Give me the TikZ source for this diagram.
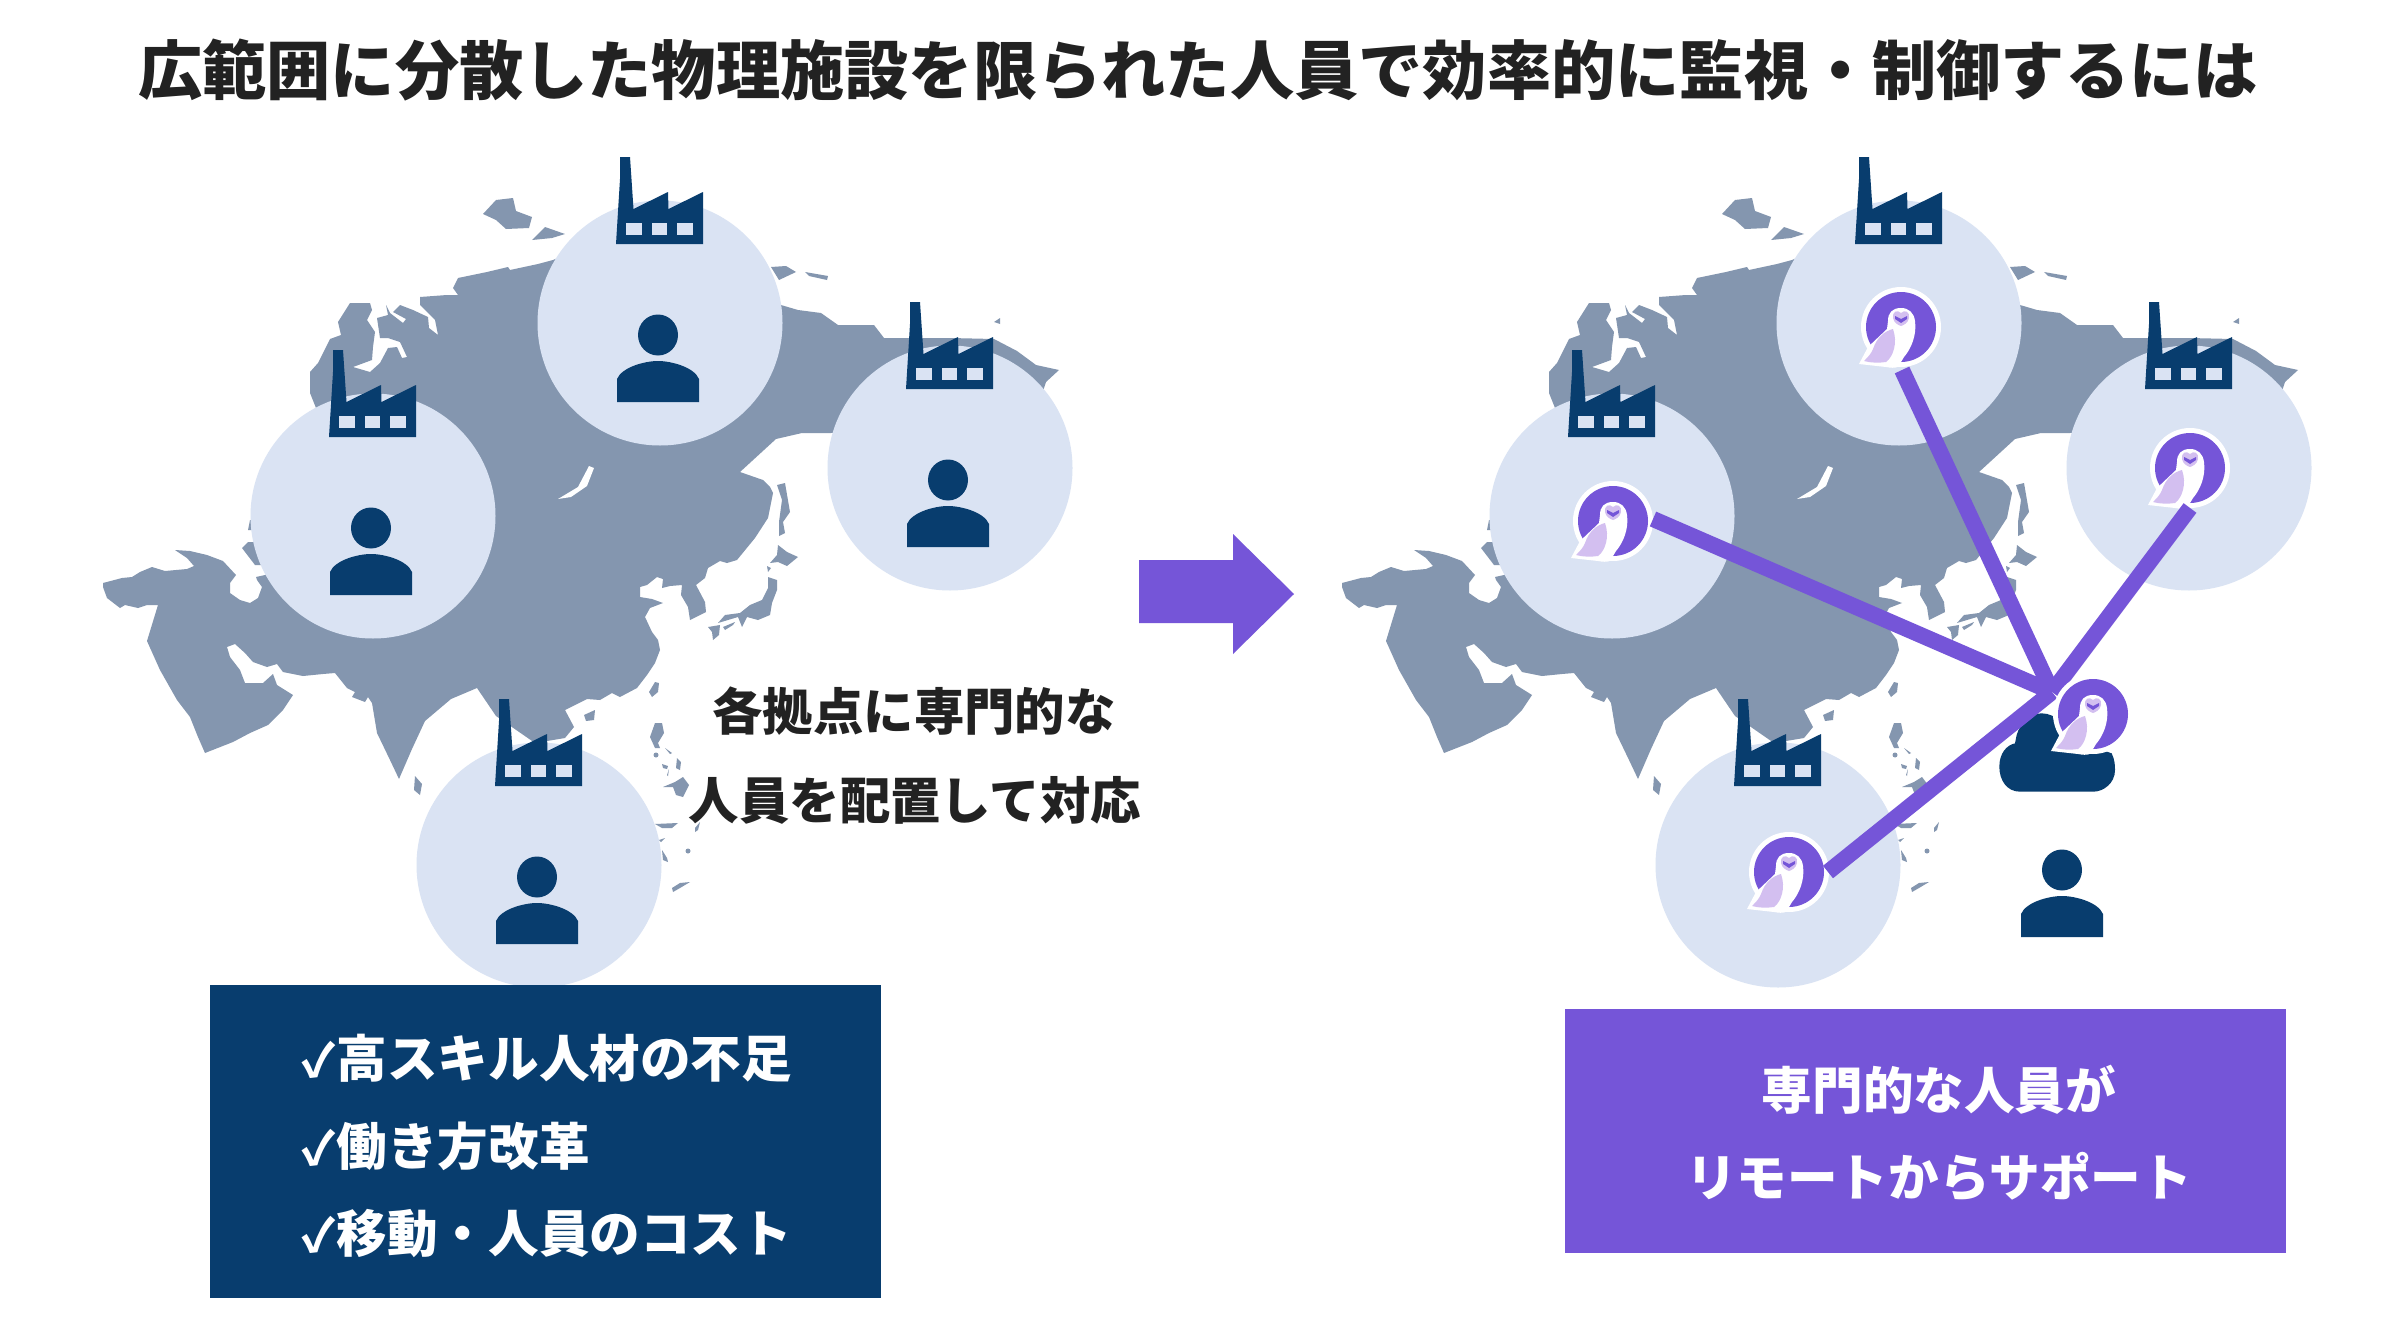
\documentclass[tikz,border=0pt]{standalone}
\usepackage{fontspec}
\newfontfamily\jp{Noto Sans CJK JP}
\definecolor{navy}{HTML}{083D6E}
\definecolor{violet2}{HTML}{7555D8}
\definecolor{mapgrey}{HTML}{8496AF}
\definecolor{disc}{HTML}{DAE3F3}
\definecolor{lilac}{HTML}{D3BFF0}
\definecolor{ink}{HTML}{222222}
\tikzset{
  site/.style={circle,fill=disc,minimum size=122.5pt,inner sep=0pt},
  title/.style={font=\jp\bfseries\fontsize{32.12}{32.12}\selectfont,text=ink,inner sep=0pt},
  body/.style={font=\jp\bfseries\fontsize{25.2}{25.2}\selectfont,text=ink,inner sep=0pt},
  boxtext/.style={font=\jp\bfseries\fontsize{25.3}{25.3}\selectfont,text=white,inner sep=0pt},
  link/.style={draw=violet2,line width=8pt,line cap=butt},
  owlring/.style={circle,fill=white,inner sep=0pt,minimum size=40pt},
}
\newcommand\tick{\makebox[17.6pt][l]{\fontsize{23}{23}\selectfont ✓}}
\newcommand\asiamap[1]{%
\begin{scope}[shift={(#1,0)},mapgrey]
\fill (103,583)--(122,578)--(132,577)--(140,572)--(152,567)--(165,571)--(187,569)--(194,566)--(187,558)--(175,550)--(190,551)--(207,555)--(223,561)--(236,575)--(230,583)--(230,593)--(240,600)--(250,603)--(258,598)--(262,587)--(257,580)--(256,577)--(265,575)--(300,560)--(345,480)
--(310,393)--(310,372)--(318,363)--(330,339)--(341,335)--(338,322)--(350,303)--(370,303)--(372,310)--(367,320)--(375,332)--(373,347)--(372,360)--(353,367)--(370,372)--(380,363)--(388,348)--(397,347)--(402,358)--(407,357)--(400,342)--(388,338)--(380,338)--(377,318)--(388,315)--(386,305)--(390,313)--(403,323)--(406,319)--(393,312)--(400,305)--(413,310)--(428,317)--(429,328)--(438,335)--(435,320)--(420,305)--(420,297)--(447,295)--(458,295)--(453,288)--(458,278)--(487,272)--(508,267)--(510,270)--(538,264)--(553,260)--(600,240)--(770,300)
--(781,305)--(798,310)--(821,313)--(838,325)--(874,325)--(884,338)--(908,338)--(950,338)--(994,339)--(1017,351)--(1036,365)--(1059,370)--(1046,382)--(1040,400)--(950,420)--(831,433)--(802,433)--(776,439)--(740,472)--(763,480)--(770,487)--(773,493)--(768,518)--(755,538)--(737,560)--(727,563)--(720,561)--(708,568)--(705,578)--(696,585)--(705,602)--(706,612)--(690,620)--(688,607)--(681,595)--(682,585)--(670,586)--(662,588)--(663,579)--(657,577)--(647,585)--(640,587)--(640,597)--(652,599)--(663,603)--(650,608)--(645,617)--(652,632)--(658,640)--(660,650)--(655,663)--(647,675)--(637,688)--(620,697)--(612,693)--(600,700)--(587,699)--(565,710)--(574,727)--(565,738)--(535,743)--(496,716)--(477,688)--(451,699)--(425,721)--(412,749)--(399,779)--(390,760)--(377,733)--(372,703)--(368,697)--(365,702)--(352,697)--(355,692)--(347,688)--(335,673)--(323,674)--(303,676)--(283,672)--(277,664)--(267,667)--(253,662)--(245,653)--(235,644)--(227,647)--(230,657)--(240,670)--(245,683)--(263,683)--(273,674)--(277,685)--(293,695)--(283,710)--(268,725)--(250,733)--(233,742)--(205,753)--(198,737)--(190,717)--(177,700)--(160,670)--(147,641)--(158,605)--(147,605)--(138,608)--(125,605)--(120,608)--(107,598)--(103,587)--cycle;
\fill (242,548)--(248,542)--(260,542)--(275,565)--(255,565)--cycle;
\fill (250,520)--(256,520)--(256,530)--(248,530)--cycle;
\fill[white] (558,499)--(578,487)--(589,466)--(594,468)--(587,486)--(571,497)--cycle;
\fill (483,214)--(496,200)--(513,198)--(516,211)--(532,217)--(529,228)--(506,229)--(496,220)--cycle;
\fill (532,240)--(545,227)--(565,234)--(552,238)--cycle;
\fill (771,267)--(786,266)--(796,272)--(779,280)--cycle;
\fill (805,272)--(828,276)--(827,280)--(809,276)--cycle;
\fill (994,322)--(1000,318)--(1000,324)--cycle;
\fill (777,485)--(785,483)--(790,512)--(783,522)--(785,533)--(779,536)--(779,522)--(782,500)--cycle;
\fill (778,545)--(787,552)--(798,557)--(787,566)--(778,562)--(770,563)--(777,555)--cycle;
\fill (767,566)--(771,568)--(768,572)--cycle;
\fill (768,577)--(777,580)--(777,590)--(772,603)--(770,615)--(758,620)--(747,617)--(742,627)--(738,617)--(718,623)--(725,615)--(740,613)--(750,605)--(762,600)--(768,588)--cycle;
\fill (723,627)--(735,622)--(733,625)--(725,630)--cycle;
\fill (708,627)--(720,625)--(719,635)--(713,640)--(712,632)--cycle;
\fill (655,682)--(659,683)--(658,692)--(652,697)--(649,692)--cycle;
\fill (655,723)--(662,723)--(664,733)--(658,743)--(660,748)--(655,748)--(650,737)--cycle;
\fill (656,755) circle (2.5);
\fill (665,748)--(672,753)--(670,754)--cycle;
\fill (677,758)--(681,762)--(680,770)--(676,768)--cycle;
\fill (662,764)--(668,766)--(667,769)--(663,768)--cycle;
\fill (667,775)--(669,769)--(668,776)--cycle;
\fill (663,787)--(675,782)--(683,777)--(689,785)--(683,797)--(676,795)--(673,787)--cycle;
\fill (655,824)--(678,823)--(672,828)--(662,828)--cycle;
\fill (659,840)--(665,838)--(661,842)--cycle;
\fill (662,850)--(667,858)--(668,862)--(663,860)--cycle;
\fill (688,851) circle (2.5);
\fill (672,888)--(680,883)--(690,882)--(680,888)--(673,892)--cycle;
\fill (695,828)--(700,822)--(698,830)--(695,832)--cycle;
\fill (584,715)--(595,710)--(594,720)--(586,721)--cycle;
\fill (415,776)--(422,784)--(420,795)--(414,790)--cycle;
\end{scope}}
\newcommand\factory[2]{%
\begin{scope}[shift={(#1-44,#2-79)}]
\fill[navy] (0,0)--(4,-65)--(4,-87)--(14,-87)--(17.5,-35)--(52,-52)--(52.5,-35)--(87,-52)--(87,0)--cycle;
\foreach \wx in {10,35.5,61}{\fill[disc] (\wx,-21) rectangle ++(15.5,12);}
\end{scope}}
\newcommand\person[2]{%
\begin{scope}[shift={(#1,#2)}]
\fill[navy] (-2,12) ellipse (20 and 20.5);
\fill[navy] (-43,79)--(-43,56) .. controls (-38,44) and (-15,38) .. (-2,38) .. controls (11,38) and (34,44) .. (39,56) -- (39,79)--cycle;
\end{scope}}
\newcommand\owl[3]{%
\node[owlring] (#1) at (#2,#3) {};
\begin{scope}[shift={(#2,#3)}]
\fill[violet2] (0,0) circle (35);
\fill[white] (0,-19) .. controls (-9,-19) and (-13,-14) .. (-13,-6) -- (-14,2) -- (-33,20) -- (-42,37) -- (-15,40) .. controls (-5,42) and (0,40) .. (0,35) -- (3,30) .. controls (10,22) and (16,8) .. (14,-6) .. controls (13,-14) and (8,-19) .. (0,-19) -- cycle;
\fill[lilac] (-8,2) .. controls (-16,4) and (-24,10) .. (-28,22) .. controls (-30,27) and (-33,30) .. (-37,34) .. controls (-30,36) and (-22,36) .. (-15,35) .. controls (-8,30) and (-3,16) .. (-8,2) -- cycle;
\fill[lilac] (0,-14) .. controls (-4,-18) and (-9,-15) .. (-8,-9) .. controls (-7,-4) and (-3,-2) .. (0,-1) .. controls (3,-2) and (7,-4) .. (8,-9) .. controls (9,-15) and (4,-18) .. (0,-14) -- cycle;
\fill[violet2] (-6,-11)--(0,-8)--(6,-11)--(6,-8)--(0,-4)--(-6,-8)--cycle;
\end{scope}}
\begin{document}
\begin{tikzpicture}[x=0.5pt,y=-0.5pt]
\useasboundingbox (0,0) rectangle (2395,1317);
\fill[white] (0,0) rectangle (2395,1317);
\node[title] (heading) at (1198,70) {広範囲に分散した物理施設を限られた人員で効率的に監視・制御するには};

% left panel
\asiamap{0}
\node[site] (a1) at (660,323) {};
\node[site] (a2) at (373,516) {};
\node[site] (a3) at (950,468) {};
\node[site] (a4) at (539,865) {};
\factory{660}{323}\factory{373}{516}\factory{950}{468}\factory{539}{865}
\person{660}{323}\person{373}{516}\person{950}{468}\person{539}{865}
\node[body] (note1) at (914,711) {各拠点に専門的な};
\node[body] (note2) at (915,800) {人員を配置して対応};

% arrow
\fill[violet2] (1139,560)--(1233,560)--(1233,534)--(1294,594)--(1233,654)--(1233,623)--(1139,623)--cycle;

% right panel
\asiamap{1239}
\node[site] (b1) at (1899,323) {};
\node[site] (b2) at (1612,516) {};
\node[site] (b3) at (2189,468) {};
\node[site] (b4) at (1778,865) {};
\factory{1899}{323}\factory{1612}{516}\factory{2189}{468}\factory{1778}{865}
\person{2064}{858}
% cloud
\begin{scope}[shift={(1960,660)},x=0.16667pt,y=-0.16667pt]
\fill[navy] (118,320) .. controls (118,280) and (140,255) .. (165,250) -- (170,225) .. controls (180,190) and (210,160) .. (245,160) .. controls (290,160) and (320,200) .. (340,240) -- (455,280) .. controls (465,300) and (465,320) .. (465,330) .. controls (465,370) and (430,395) .. (400,395) -- (180,395) .. controls (140,395) and (118,360) .. (118,320) -- cycle;
\end{scope}
\owl{o1}{1901}{327}
\owl{o2}{1613}{521}
\owl{o3}{2190}{468}
\owl{o4}{1789}{872}
\coordinate (hub) at (2052,692);
\coordinate (e1) at (1902,370);
\coordinate (e2) at (1653,519);
\coordinate (e3) at (2190,508);
\coordinate (e4) at (1828,872);
\draw[link] (e1) -- (hub);
\draw[link] (e2) -- (hub);
\draw[link] (e3) -- (hub);
\draw[link] (e4) -- (hub);
\owl{o5}{2093}{714}

% boxes
\fill[navy] (210,985) rectangle (881,1298);
\node[boxtext,anchor=west] (l1) at (301,1058) {\tick 高スキル人材の不足};
\node[boxtext,anchor=west] (l2) at (301,1146) {\tick 働き方改革};
\node[boxtext,anchor=west] (l3) at (301,1234) {\tick 移動・人員のコスト};
\fill[violet2] (1565,1009) rectangle (2286,1253);
\node[boxtext] (r1) at (1939,1090) {専門的な人員が};
\node[boxtext] (r2) at (1939,1177) {リモートからサポート};
\end{tikzpicture}
\end{document}
